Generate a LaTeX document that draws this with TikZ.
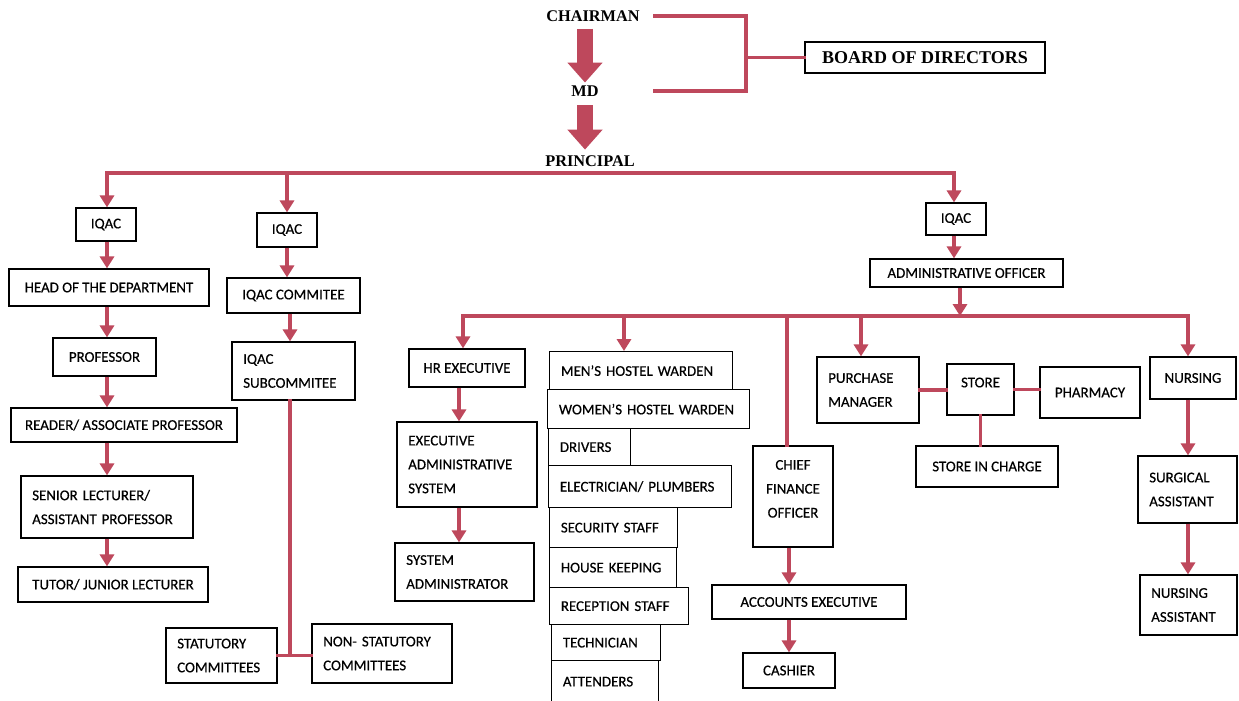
\documentclass[tikz,border=0pt]{standalone}
\usepackage{fontspec}
\setmainfont{Carlito}[FakeBold=0.4]
\newfontfamily\headfont{Liberation Serif}
\usetikzlibrary{arrows.meta}

\definecolor{linkred}{RGB}{190,72,92}

\tikzset{
  orgbox/.style 2 args={draw, line width=0.9pt, inner sep=0pt,
    minimum width=#1*0.025cm, minimum height=#2*0.025cm,
    font=\fontsize{10.6}{17}\selectfont},
  leftbox/.style 2 args={orgbox={#1}{#2}, align=left, inner xsep=8pt,
    text width=#1*0.025cm-16pt},
  headtext/.style={inner sep=0pt, font=\headfont\bfseries\fontsize{11.6}{14}\selectfont},
  link/.style={draw=linkred, line width=2.8pt, line cap=rect},
  arr/.style={draw=linkred, line width=2.8pt, -{Triangle[width=10pt,length=8.5pt]}},
  bigarr/.style={draw=linkred, line width=0.42cm, -{Triangle[width=0.85cm,length=0.5cm]}},
}

\begin{document}
\begin{tikzpicture}[x=0.025cm, y=-0.025cm]
  \useasboundingbox[fill=white] (0,0) rectangle (1239,700);

  % top of the chart
  \node[headtext] (chairman)  at (593,16)  {CHAIRMAN};
  \node[headtext] (md)        at (585,91)  {MD};
  \node[headtext] (principal) at (590,161) {PRINCIPAL};
  \node[orgbox={240}{31}, line width=1pt,
        font=\headfont\bfseries\fontsize{12.8}{15}\selectfont] (board) at (925,57.5) {BOARD OF DIRECTORS};

  \coordinate (brk-in)  at (655,0);
  \coordinate (brk-top) at (746,16);
  \coordinate (brk-bot) at (746,91);

  \draw[bigarr, shorten <=5pt, shorten >=2pt] (chairman.south -| md) -- (md.north);
  \draw[bigarr, shorten <=6pt, shorten >=4pt] (md.south) -- (principal.north -| md);
  \draw[link] (chairman.east -| brk-in) -- (brk-top) -- (brk-bot) -- (md.east -| brk-in);
  \draw[link] (brk-top |- board.west) -- (board.west);

  % academic side
  \node[orgbox={60}{33}]   (iqac-a) at (106,224.5) {IQAC};
  \node[orgbox={200}{37}]  (hod)    at (109,287.5) {HEAD OF THE DEPARTMENT};
  \node[orgbox={103}{38}]  (prof)   at (104.5,357) {PROFESSOR};
  \node[orgbox={226}{34}]  (reader) at (124,425)   {READER/ ASSOCIATE PROFESSOR};
  \node[leftbox={172}{62}] (senior) at (107,507)   {SENIOR LECTURER/\\ASSISTANT PROFESSOR};
  \node[orgbox={190}{35}]  (tutor)  at (113,584.5) {TUTOR/ JUNIOR LECTURER};

  \node[orgbox={60}{34}]   (iqac-b)  at (287,230)    {IQAC};
  \node[orgbox={133}{35}]  (iqacc)   at (293.5,295.5) {IQAC COMMITEE};
  \node[leftbox={123}{58}] (iqacsub) at (293.5,371)  {IQAC\\SUBCOMMITEE};
  \node[leftbox={111}{55}] (stat)    at (221.5,655.5) {STATUTORY\\COMMITTEES};
  \node[leftbox={140}{59}] (nonstat) at (382,653.5)  {NON- STATUTORY\\COMMITTEES};

  % administrative side
  \node[orgbox={60}{32}]  (iqac-c) at (956,219)    {IQAC};
  \node[orgbox={193}{28}] (admin)  at (966.5,273)  {ADMINISTRATIVE OFFICER};

  \node[orgbox={116}{38}]  (hr)      at (467,368)   {HR EXECUTIVE};
  \node[leftbox={140}{85}] (eas)     at (467,464.5) {EXECUTIVE\\ADMINISTRATIVE\\SYSTEM};
  \node[leftbox={139}{58}] (sysadm)  at (464.5,572) {SYSTEM\\ADMINISTRATOR};

  \node[leftbox={183}{38}, anchor=north west] (men)     at (549,351) {MEN'S HOSTEL WARDEN};
  \node[leftbox={202}{39}, anchor=north west] (women)   at (547,389) {WOMEN'S HOSTEL WARDEN};
  \node[leftbox={82}{37},  anchor=north west] (drivers) at (548,428) {DRIVERS};
  \node[leftbox={183}{42}, anchor=north west] (elec)    at (548,465) {ELECTRICIAN/ PLUMBERS};
  \node[leftbox={128}{40}, anchor=north west] (sec)     at (549,507) {SECURITY STAFF};
  \node[leftbox={127}{40}, anchor=north west] (house)   at (549,547) {HOUSE KEEPING};
  \node[leftbox={139}{37}, anchor=north west] (recep)   at (549,587) {RECEPTION STAFF};
  \node[leftbox={109}{36}, anchor=north west] (tech)    at (551,624) {TECHNICIAN};
  \node[leftbox={107}{42}, anchor=north west] (att)     at (551,660) {ATTENDERS};

  \node[orgbox={80}{101}, align=center, text depth=11pt] (cfo) at (793,496.5) {CHIEF\\FINANCE\\OFFICER};
  \node[orgbox={194}{34}]               (acc)     at (809,602)   {ACCOUNTS EXECUTIVE};
  \node[orgbox={92}{35}]                (cashier) at (789,670.5) {CASHIER};

  \node[leftbox={102}{66}] (purchase) at (868,390)    {PURCHASE\\MANAGER};
  \node[orgbox={67}{51}, text depth=10pt] (store) at (980.5,389.5) {STORE};
  \node[orgbox={100}{51}]  (pharmacy) at (1090,392.5) {PHARMACY};
  \node[orgbox={142}{41}]  (sic)      at (987,466.5)  {STORE IN CHARGE};

  \node[orgbox={86}{42}]  (nursing) at (1193,378)    {NURSING};
  \node[leftbox={99}{67}] (surg)    at (1187.5,489.5) {SURGICAL\\ASSISTANT};
  \node[leftbox={97}{60}] (na)      at (1188.5,605)  {NURSING\\ASSISTANT};

  % connectors
  \coordinate (bus1-l) at (107,173);
  \coordinate (bus1-r) at (954,173);
  \coordinate (col-a)  at (107,0);
  \coordinate (col-b)  at (290,0);
  \coordinate (col-hr) at (459,0);
  \coordinate (bus2-l) at (463,316);
  \coordinate (bus2-m) at (624,316);
  \coordinate (bus2-c) at (787,316);
  \coordinate (bus2-p) at (861,316);
  \coordinate (bus2-a) at (960,316);
  \coordinate (bus2-r) at (1188,316);

  \draw[link] (bus1-l) -- (bus1-r);
  \draw[arr] (bus1-l) -- (bus1-l |- iqac-a.north);
  \draw[arr] (iqac-b.north |- bus1-l) -- (iqac-b.north);
  \draw[arr] (bus1-r) -- (bus1-r |- iqac-c.north);

  \draw[arr] (iqac-a.south -| col-a) -- (hod.north -| col-a);
  \draw[arr] (hod.south -| col-a)    -- (prof.north -| col-a);
  \draw[arr] (prof.south -| col-a)   -- (reader.north -| col-a);
  \draw[arr] (reader.south -| col-a) -- (senior.north -| col-a);
  \draw[arr] (senior.south -| col-a) -- (tutor.north -| col-a);

  \draw[arr] (iqac-b.south) -- (iqac-b.south |- iqacc.north);
  \draw[arr] (iqacc.south -| col-b) -- (iqacsub.north -| col-b);
  \draw[link] (iqacsub.south -| col-b) -- (stat.east -| col-b);
  \draw[link] (stat.east) -- (stat.east -| nonstat.west);

  \draw[arr] (iqac-c.south -| bus1-r) -- (admin.north -| bus1-r);
  \draw[arr] (admin.south -| bus2-a) -- (bus2-a);
  \draw[link] (bus2-l) -- (bus2-r);

  \draw[arr] (bus2-l) -- (bus2-l |- hr.north);
  \draw[arr] (hr.south -| col-hr)  -- (eas.north -| col-hr);
  \draw[arr] (eas.south -| col-hr) -- (sysadm.north -| col-hr);
  \draw[arr] (bus2-m) -- (bus2-m |- men.north);
  \draw[link] (bus2-c) -- (bus2-c |- cfo.north);
  \draw[arr] (cfo.south -| cashier) -- (acc.north -| cashier);
  \draw[arr] (acc.south -| cashier) -- (cashier.north);
  \draw[arr] (bus2-p) -- (bus2-p |- purchase.north);
  \draw[link] (purchase.east) -- (purchase.east -| store.west);
  \draw[link] (store.east) -- (store.east -| pharmacy.west);
  \draw[link] (store.south) -- (store.south |- sic.north);
  \draw[arr] (bus2-r) -- (bus2-r |- nursing.north);
  \draw[arr] (nursing.south -| bus2-r) -- (surg.north -| bus2-r);
  \draw[arr] (surg.south -| bus2-r) -- (na.north -| bus2-r);
\end{tikzpicture}
\end{document}
